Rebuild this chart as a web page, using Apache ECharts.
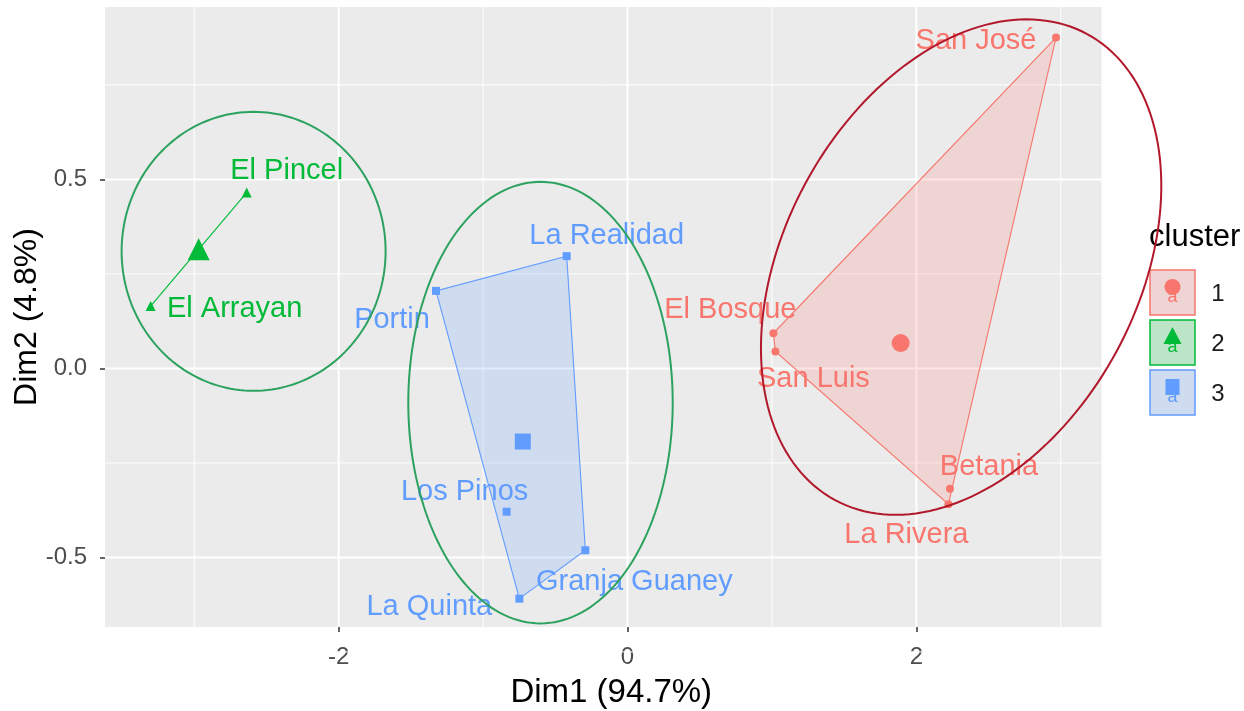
<!DOCTYPE html>
<html>
<head>
<meta charset="utf-8">
<script src="https://cdn.jsdelivr.net/npm/echarts@6/dist/echarts.min.js"></script>
<style>
html,body{margin:0;padding:0;background:#ffffff;}
#chart{width:1244px;height:711px;}
</style>
</head>
<body>
<div id="chart"></div>
<script>
// ---------------- data ----------------
const names    = ['San José','El Bosque','San Luis','Betania','La Rivera','El Pincel','El Arrayan','La Realidad','Portin','Los Pinos','Granja Guaney','La Quinta'];
const dim1     = [2.967, 1.010, 1.024, 2.233, 2.222, -2.637, -3.302, -0.421, -1.326, -0.837, -0.292, -0.749];
const dim2     = [0.875, 0.093, 0.045, -0.318, -0.359, 0.465, 0.165, 0.297, 0.205, -0.379, -0.481, -0.609];
const clusterOf = [1, 1, 1, 1, 1, 2, 2, 3, 3, 3, 3, 3];
const clusterNames = ['1', '2', '3'];

const xTicks = [-2, 0, 2];
const yTicks = [-0.5, 0, 0.5];
const xMinorTicks = [-3, -1, 1, 3];
const yMinorTicks = [-0.75, -0.25, 0.25, 0.75];

// annotation ellipses (data units): centre and two semi-axis vectors
const ellipseCx = [2.31, -2.589, -0.6025];
const ellipseCy = [0.268, 0.3098, -0.0905];
const ellipseUx = [0.8726, 0.914, 0.9155];
const ellipseUy = [0.6164, 0, 0];
const ellipseVx = [1.0769, 0, 0];
const ellipseVy = [-0.2225, 0.369, 0.584];

// ---------------- styles ----------------
const FONT = 'Liberation Sans, Arial, sans-serif';
const colors = ['#F8766D', '#00BA38', '#619CFF'];
const hullFills = ['rgba(248,118,109,0.2)', 'rgba(0,186,56,0.2)', 'rgba(97,156,255,0.2)'];
const keyFills = ['#EED4D2', '#BCE5C8', '#CFDBEF'];
const symbols = ['circle', 'triangle', 'rect'];
const memberSizes = [8, 10, 8];
const centroidSizes = [18, 22, 16];
const ellipseColors = ['#B2182B', '#2CA25F', '#2CA25F'];
const labelOffsets = {
  'San José': [-80, 3], 'El Bosque': [-43, -23], 'San Luis': [38, 28], 'Betania': [39, -22],
  'La Rivera': [-42, 31], 'El Pincel': [40, -22], 'El Arrayan': [84, 3], 'La Realidad': [40, -20],
  'Portin': [-44, 29], 'Los Pinos': [-42, -20], 'Granja Guaney': [49, 32], 'La Quinta': [-90, 8]
};

// ---------------- derived ----------------
const members = clusterNames.map((c, k) => names.map((n, i) => i).filter(i => clusterOf[i] === k + 1));
const centroids = members.map(idx => [
  idx.reduce((s, i) => s + dim1[i], 0) / idx.length,
  idx.reduce((s, i) => s + dim2[i], 0) / idx.length
]);
function hull(pts) {
  const p = pts.slice().sort((a, b) => a[0] - b[0] || a[1] - b[1]);
  if (p.length < 3) return p;
  const cross = (o, a, b) => (a[0] - o[0]) * (b[1] - o[1]) - (a[1] - o[1]) * (b[0] - o[0]);
  const lower = [], upper = [];
  for (const q of p) { while (lower.length >= 2 && cross(lower[lower.length - 2], lower[lower.length - 1], q) <= 0) lower.pop(); lower.push(q); }
  for (let i = p.length - 1; i >= 0; i--) { const q = p[i]; while (upper.length >= 2 && cross(upper[upper.length - 2], upper[upper.length - 1], q) <= 0) upper.pop(); upper.push(q); }
  upper.pop(); lower.pop();
  return lower.concat(upper);
}
const hulls = members.map(idx => hull(idx.map(i => [dim1[i], dim2[i]])));

// ---------------- series ----------------
const series = [];

// grid lines
series.push({
  type: 'custom', silent: true, z: 1, data: [[0, 0]],
  renderItem: function (params, api) {
    const cs = params.coordSys;
    const children = [];
    const vline = (v, w) => { const x = api.coord([v, 0])[0]; children.push({ type: 'line', shape: { x1: x, y1: cs.y, x2: x, y2: cs.y + cs.height }, style: { stroke: '#FFFFFF', lineWidth: w } }); };
    const hline = (v, w) => { const y = api.coord([0, v])[1]; children.push({ type: 'line', shape: { x1: cs.x, y1: y, x2: cs.x + cs.width, y2: y }, style: { stroke: '#FFFFFF', lineWidth: w } }); };
    xMinorTicks.forEach(v => vline(v, 1));
    yMinorTicks.forEach(v => hline(v, 1));
    xTicks.forEach(v => vline(v, 2));
    yTicks.forEach(v => hline(v, 2));
    return { type: 'group', children };
  }
});

// convex hulls
series.push({
  type: 'custom', silent: true, z: 2, data: [0, 1, 2],
  renderItem: function (params, api) {
    const k = params.dataIndex;
    const pts = hulls[k].map(p => api.coord(p));
    return { type: 'polygon', shape: { points: pts }, style: { fill: hullFills[k], stroke: colors[k], lineWidth: 1.1 } };
  }
});

// points + centroids per cluster
clusterNames.forEach((c, k) => {
  const data = members[k].map(i => ({ name: names[i], value: [dim1[i], dim2[i]] }));
  data.push({ name: '', value: centroids[k], symbolSize: centroidSizes[k], label: { show: false } });
  series.push({
    type: 'scatter', name: c, z: 3, silent: true,
    symbol: symbols[k], symbolSize: memberSizes[k],
    itemStyle: { color: colors[k], opacity: 1 },
    label: { show: true, position: 'inside', formatter: '{b}', color: colors[k], fontSize: 29, fontFamily: FONT },
    labelLayout: function (p) {
      const off = labelOffsets[p.text] || [0, 0];
      return { dx: off[0], dy: off[1], hideOverlap: false };
    },
    data
  });
});

// ellipses
series.push({
  type: 'custom', silent: true, z: 5, data: [0, 1, 2],
  renderItem: function (params, api) {
    const k = params.dataIndex;
    const pts = [];
    const N = 180;
    for (let j = 0; j <= N; j++) {
      const t = 2 * Math.PI * j / N;
      pts.push(api.coord([
        ellipseCx[k] + ellipseUx[k] * Math.cos(t) + ellipseVx[k] * Math.sin(t),
        ellipseCy[k] + ellipseUy[k] * Math.cos(t) + ellipseVy[k] * Math.sin(t)
      ]));
    }
    return { type: 'polyline', shape: { points: pts }, style: { fill: 'none', stroke: ellipseColors[k], lineWidth: 2 } };
  }
});

// ---------------- legend (graphic) ----------------
const graphic = [{ type: 'text', left: 1149, top: 222, style: { text: 'cluster', font: '31px ' + FONT, fill: '#000000' } }];
clusterNames.forEach((c, k) => {
  const top = 270 + 50 * k, cx = 1172.5, cy = top + 17;
  graphic.push({ type: 'rect', shape: { x: 1150, y: top, width: 45, height: 45 }, style: { fill: keyFills[k], stroke: colors[k], lineWidth: 1.5 } });
  graphic.push({ type: 'text', x: cx, y: top + 27, style: { text: 'a', font: '18px ' + FONT, fill: colors[k], align: 'center', verticalAlign: 'middle' } });
  if (k === 0) graphic.push({ type: 'circle', shape: { cx: cx, cy: cy, r: 8 }, style: { fill: colors[k] } });
  if (k === 1) graphic.push({ type: 'polygon', shape: { points: [[cx, cy - 10], [cx - 9, cy + 7], [cx + 9, cy + 7]] }, style: { fill: colors[k] } });
  if (k === 2) graphic.push({ type: 'rect', shape: { x: cx - 7, y: cy - 8, width: 14, height: 16 }, style: { fill: colors[k] } });
  graphic.push({ type: 'text', x: 1218, y: top + 24, style: { text: c, font: '24px ' + FONT, fill: '#1A1A1A', align: 'center', verticalAlign: 'middle' } });
});

const option = {
  animation: false,
  backgroundColor: '#FFFFFF',
  grid: { left: 105, right: 142.5, top: 7, bottom: 84, show: true, backgroundColor: '#EBEBEB', borderWidth: 0, containLabel: false, outerBoundsMode: 'none' },
  xAxis: {
    type: 'value', min: -3.618, max: 3.282,
    splitLine: { show: false }, axisLine: { show: false, onZero: false },
    axisTick: { show: true, customValues: xTicks, length: 5, lineStyle: { color: '#333333', width: 1.5 } },
    axisLabel: { customValues: xTicks, fontSize: 24, color: '#4D4D4D', margin: 18, fontFamily: FONT, formatter: v => String(v) },
    name: 'Dim1 (94.7%)', nameLocation: 'middle', nameGap: 49, nameMoveOverlap: false,
    nameTextStyle: { fontSize: 33, color: '#000000', fontFamily: FONT, padding: [0, 0, 0, 16] }
  },
  yAxis: {
    type: 'value', min: -0.684, max: 0.956,
    splitLine: { show: false }, axisLine: { show: false, onZero: false },
    axisTick: { show: true, customValues: yTicks, length: 5, lineStyle: { color: '#333333', width: 1.5 } },
    axisLabel: { customValues: yTicks, fontSize: 24, color: '#4D4D4D', margin: 18, fontFamily: FONT, formatter: v => v.toFixed(1) },
    name: 'Dim2 (4.8%)', nameLocation: 'middle', nameGap: 62, nameMoveOverlap: false,
    nameTextStyle: { fontSize: 32, color: '#000000', fontFamily: FONT }
  },
  series,
  graphic
};

const chart = echarts.init(document.getElementById('chart'), null, { renderer: 'canvas' });
chart.setOption(option);
</script>
</body>
</html>
